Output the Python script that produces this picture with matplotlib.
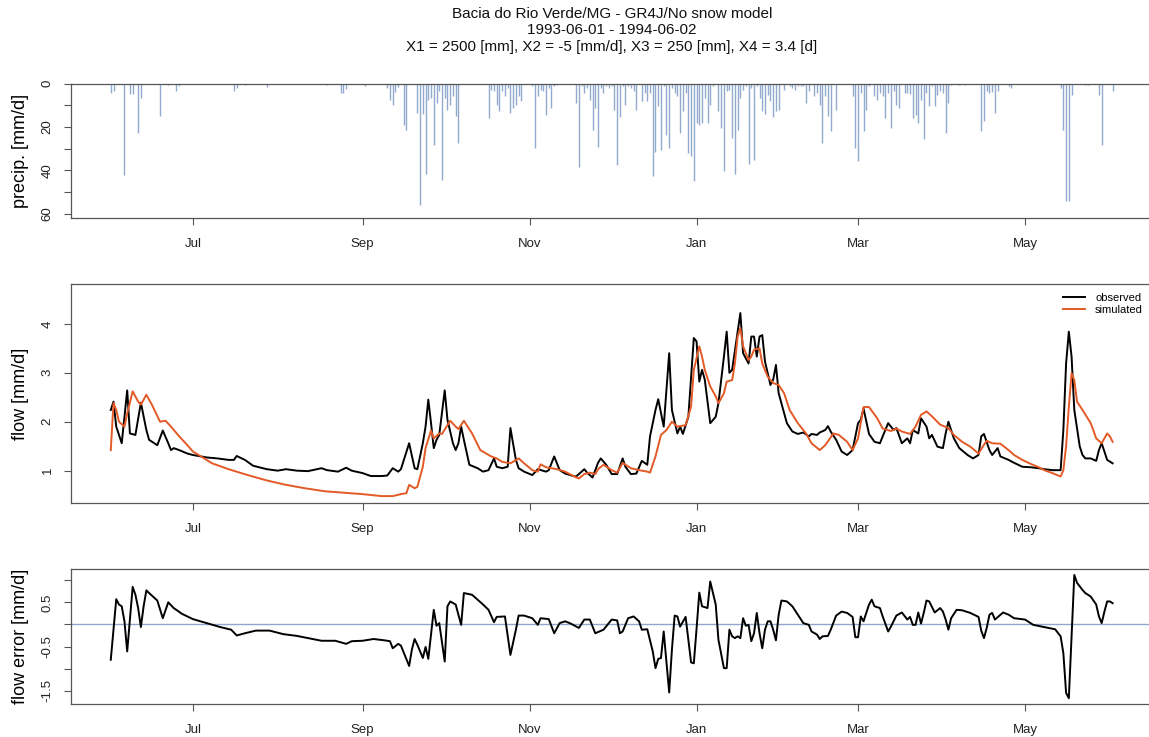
import numpy as np
import matplotlib
matplotlib.use('Agg')
from matplotlib import pyplot as plt
import matplotlib.dates as mdates

plt.rcParams['font.family'] = ['Liberation Sans', 'DejaVu Sans']

start = np.datetime64('1993-06-01')

# daily precipitation (days since 1993-06-01, mm/d), only wet days
rain_day = [0, 1, 5, 7, 8, 10, 11, 18, 21, 24, 25, 45, 46, 49, 57, 79, 84, 85, 86, 93,
            101, 102, 103, 104, 105, 107, 108, 112, 113, 114, 115, 116, 117, 118, 119, 120,
            121, 122, 123, 124, 125, 126, 127,
            138, 139, 140, 141, 142, 143, 144, 145, 146, 147, 148, 149, 150,
            154, 155, 156, 157, 158, 159, 160, 161, 162, 163,
            170, 171, 172, 173, 174, 175, 176, 177, 178, 179, 180, 181, 182, 183, 184, 185,
            186, 187, 188, 189, 190, 191, 192,
            194, 195, 196, 197, 198, 199, 200, 201, 202, 203, 204, 205, 206, 207, 208, 209,
            210, 211, 212, 213, 214, 215, 216, 217, 218, 219, 220, 222, 223, 224, 225, 226,
            227, 228, 229, 230, 231, 232, 233, 234, 235, 236, 237, 238, 239, 240, 241, 242,
            243, 244, 246, 248, 249, 250, 251, 252, 253, 254, 255, 257, 258, 259, 260, 261,
            262, 263, 265,
            271, 272, 273, 274, 275, 276, 277, 279, 280, 281, 282, 283, 284, 285, 286, 287,
            288, 290, 291, 292, 293, 294, 295, 296, 297, 298, 299, 300, 301, 302, 303, 304,
            305, 306, 307, 310, 312, 318, 319, 320, 321, 322, 323, 324, 328, 329,
            347, 348, 349, 350, 351, 356, 357, 361, 362, 366]
rain_mm = [4.5, 3.5, 42.3, 4.8, 4.8, 22.8, 6.6, 15.1, 0.4, 3.2, 1.2, 3.5, 2.0, 0.8, 1.5, 0.8, 4.3, 4.3, 2.3, 1.2,
           2.1, 7.5, 9.8, 3.7, 1.4, 18.9, 21.2, 13.5, 55.8, 14.0, 41.5, 7.4, 6.5, 28.1, 8.9, 3.5,
           44.3, 6.8, 12.0, 9.7, 5.8, 15.1, 27.4,
           15.8, 2.8, 3.5, 9.7, 12.8, 3.5, 5.8, 2.0, 13.5, 11.2, 9.7, 5.8, 8.1,
           1.2, 29.7, 5.8, 2.8, 3.5, 14.3, 2.0, 11.2, 1.2, 0.5,
           8.9, 38.6, 1.2, 4.3, 2.0, 7.4, 21.2, 11.2, 29.0, 2.0, 4.3, 1.2, 2.0, 1.2, 12.0, 37.7,
           15.5, 1.2, 9.7, 1.2, 2.0, 3.5, 12.0,
           8.1, 4.3, 8.1, 4.3, 42.8, 31.5, 10.4, 30.5, 1.2, 23.5, 29.7, 2.0, 4.3, 5.8, 22.8, 12.8,
           4.3, 32.0, 33.5, 45.1, 18.1, 18.9, 18.1, 6.6, 18.1, 9.7, 1.2, 12.8, 20.5, 40.2, 3.5, 2.8,
           25.1, 41.7, 21.2, 6.6, 2.8, 1.2, 37.1, 2.0, 35.1, 1.2, 6.6, 12.8, 14.0, 5.1, 8.1, 15.5,
           12.8, 12.0, 2.8, 1.2, 2.0, 2.8, 1.2, 1.2, 1.2, 8.9, 3.5, 5.8, 4.3, 9.7, 27.4, 5.8,
           15.1, 21.7, 12.0,
           5.8, 29.7, 35.5, 4.3, 22.0, 12.0, 1.2, 5.8, 7.4, 4.3, 5.8, 15.8, 4.3, 20.5, 3.5, 9.7,
           11.2, 4.3, 4.3, 4.7, 15.8, 14.3, 18.1, 7.4, 25.5, 4.3, 10.4, 1.2, 10.4, 5.1, 3.5, 4.3,
           22.8, 8.9, 0.5, 0.5, 0.5, 21.7, 17.4, 3.5, 4.3, 4.0, 13.5, 3.5, 1.2, 2.0,
           2.0, 21.2, 54.3, 54.0, 5.1, 0.8, 0.8, 5.1, 28.1, 3.5]

# observed flow (mm/d)
obs_day = [0, 1, 2, 4, 6, 7, 9, 11, 13, 14, 17, 19, 21, 22, 23, 25, 28, 30, 35, 39, 43, 45, 46, 49,
           52, 57, 61, 64, 68, 72, 77, 79, 83, 86, 88, 92, 95, 99, 101, 103, 105, 106, 109, 111,
           112, 114, 115, 116, 117, 118, 119, 120, 122, 123, 125, 126, 127, 128, 129, 131, 134,
           136, 138, 140, 141, 143, 145, 146, 148, 149, 151, 154, 156, 159, 160, 162, 164, 166,
           169, 170, 171, 173, 174, 176, 177, 178, 179, 181, 183, 185, 187, 188, 190, 192, 194,
           196, 197, 199, 200, 202, 204, 205, 207, 208, 209, 211, 212, 213, 214, 215, 216, 217,
           219, 221, 222, 224, 225, 226, 227, 229, 230, 231, 233, 234, 235, 236, 237, 238, 239,
           241, 242, 243, 244, 246, 247, 249, 251, 253, 255, 256, 258, 259, 261, 262, 263, 265,
           267, 269, 271, 273, 274, 275, 277, 279, 281, 282, 284, 286, 287, 289, 291, 292, 293,
           295, 296, 298, 299, 300, 302, 304, 305, 306, 308, 310, 313, 315, 317, 318, 319, 321,
           322, 324, 325, 328, 330, 333, 336, 339, 341, 344, 347, 348, 349, 350, 351, 352, 354,
           355, 356, 358, 360, 361, 362, 363, 364, 366]
obs_q = [2.24, 2.41, 1.90, 1.56, 2.64, 1.76, 1.73, 2.39, 1.83, 1.63, 1.52, 1.82, 1.56, 1.42, 1.46, 1.42,
         1.35, 1.32, 1.27, 1.25, 1.22, 1.22, 1.30, 1.22,
         1.10, 1.03, 1.00, 1.03, 1.00, 0.99, 1.05, 1.01, 0.98, 1.06, 1.00, 0.95, 0.89, 0.89, 0.90,
         1.05, 0.98, 1.03, 1.56, 1.05,
         1.03, 1.56, 1.90, 2.45, 1.97, 1.46, 1.63, 1.73, 2.64, 2.04, 1.56, 1.42, 1.56, 1.90, 1.63,
         1.12, 1.05,
         0.98, 1.01, 1.25, 1.08, 1.05, 1.08, 1.87, 1.22, 1.05, 0.98, 0.91, 1.03, 0.98, 1.01, 1.29,
         1.01, 0.94,
         0.89, 0.88, 0.93, 1.03, 0.96, 0.86, 1.01, 1.16, 1.25, 1.12, 0.93, 0.93, 1.25, 1.08, 0.93,
         0.94, 1.20,
         1.12, 1.70, 2.24, 2.46, 1.90, 3.40, 2.24, 1.76, 1.90, 1.75, 2.10, 2.92, 3.71, 3.64, 2.82,
         3.06, 2.86,
         1.97, 2.10, 2.38, 3.33, 3.84, 3.00, 3.06, 3.84, 4.22, 3.40, 3.19, 3.74, 3.74, 3.33, 3.74,
         3.77, 3.23,
         2.75, 2.86, 3.16, 2.58, 2.17, 1.97, 1.80, 1.75, 1.78, 1.70, 1.75, 1.73, 1.78, 1.83, 1.91,
         1.80, 1.63,
         1.39, 1.32, 1.42, 1.97, 2.04, 2.27, 1.75, 1.59, 1.56, 1.70, 1.97, 1.83, 1.87, 1.56, 1.66,
         1.56, 1.83,
         1.76, 2.07, 1.90, 1.66, 1.73, 1.49, 1.46, 1.76, 2.00, 1.66, 1.46, 1.32, 1.25, 1.32, 1.70,
         1.75, 1.42,
         1.32, 1.46, 1.29, 1.22, 1.16, 1.08, 1.07, 1.05, 1.03, 1.01, 1.01, 1.83, 3.19, 3.84, 3.33,
         2.24, 1.49,
         1.32, 1.25, 1.25, 1.20, 1.42, 1.56, 1.39, 1.22, 1.15]

# simulated flow, GR4J (mm/d)
sim_day = [0, 1, 2, 3, 5, 6, 8, 10, 11, 13, 15, 18, 20, 22, 25, 28, 30, 33, 37, 43, 50, 57, 64, 71,
           78, 85, 92, 99, 103, 106, 108, 109, 111, 112, 114, 115, 117, 118, 120, 121, 123, 124,
           126, 127, 129, 132, 135, 139, 141, 143, 146, 149, 151, 154, 156, 157, 159, 163, 166,
           169, 171, 173, 175, 177, 178, 180, 183, 185, 187, 190, 193, 196, 197, 199, 201, 203,
           205, 207, 210, 212, 213, 215, 216, 217, 219, 221, 222, 224, 225, 227, 228, 229, 230,
           231, 233, 234, 235, 237, 238, 240, 242, 244, 246, 248, 251, 254, 256, 259, 261, 264,
           266, 269, 271, 273, 275, 277, 280, 282, 285, 287, 289, 292, 294, 296, 298, 300, 303,
           306, 308, 311, 314, 317, 319, 320, 322, 325, 328, 330, 333, 336, 339, 341, 344, 347,
           348, 349, 350, 351, 352, 353, 355, 358, 360, 362, 364, 365, 366]
sim_q = [1.42, 2.38, 2.24, 2.00, 1.90, 2.17, 2.62, 2.41, 2.35, 2.55, 2.35, 2.00, 2.02, 1.90, 1.70,
         1.52, 1.39, 1.29, 1.15, 1.03, 0.91, 0.80, 0.71, 0.64,
         0.58, 0.55, 0.52, 0.48, 0.48, 0.52, 0.54, 0.71, 0.64, 0.67, 1.08, 1.46, 1.82, 1.66, 1.76,
         1.75, 1.93, 2.02,
         1.90, 1.85, 2.02, 1.76, 1.42, 1.29, 1.25, 1.18, 1.15, 1.25, 1.15, 1.01, 0.98, 1.13, 1.07,
         1.03, 0.98,
         0.89, 0.84, 0.93, 0.96, 0.93, 1.03, 1.12, 1.01, 0.96, 1.16, 1.05, 1.01, 0.98, 0.96, 1.29,
         1.73, 1.83,
         2.00, 1.90, 1.93, 2.31, 3.06, 3.54, 3.33, 3.06, 2.72, 2.52, 2.38, 2.58, 2.82, 2.85, 3.19,
         3.74, 3.91,
         3.54, 3.26, 3.33, 3.47, 3.50, 3.19, 2.92, 2.79, 2.75, 2.58, 2.24, 1.97, 1.76, 1.56, 1.42,
         1.52, 1.76,
         1.73, 1.59, 1.42, 1.66, 2.30, 2.30, 2.07, 1.86, 1.81, 1.86, 1.80, 1.75, 1.90, 2.14, 2.21,
         2.11, 1.94,
         1.87, 1.73, 1.59, 1.49, 1.35, 1.53, 1.61, 1.56, 1.55, 1.42, 1.32, 1.22, 1.14, 1.07, 1.01,
         0.95, 0.88,
         1.01, 1.50, 2.30, 2.99, 2.85, 2.41, 2.24, 1.97, 1.66, 1.56, 1.76, 1.70, 1.59]

# flow error (mm/d)
err_day = [0, 2, 3, 4, 5, 6, 8, 9, 10, 11, 12, 13, 14, 17, 19, 21, 23, 26, 30, 35, 40, 44, 46, 49,
           53, 58, 63, 68, 72, 77, 82, 86, 88, 92, 96, 100, 102, 103, 105, 106, 109, 110, 111, 112,
           114, 115, 116, 118, 119, 120, 122, 123, 124, 126, 128, 129, 132, 134, 136, 138, 140,
           141, 144, 146, 148, 149, 151, 154, 156, 157, 160, 162, 164, 166, 168, 171, 173, 175,
           177, 180, 183, 185, 186, 187, 189, 191, 193, 194, 196, 198, 199, 200, 201, 202, 204,
           205, 206, 207, 208, 210, 211, 212, 213, 214, 215, 216, 218, 219, 221, 222, 224, 225,
           226, 227, 228, 229, 230, 231, 232, 233, 234, 235, 236, 237, 238, 239, 240, 241, 242,
           243, 244, 245, 247, 249, 251, 253, 255, 256, 258, 259, 260, 262, 263, 265, 267, 269,
           271, 272, 273, 274, 275, 277, 278, 279, 281, 282, 284, 285, 287, 289, 291, 292, 293,
           294, 295, 296, 297, 298, 299, 301, 303, 304, 305, 306, 307, 309, 311, 314, 317, 318,
           319, 320, 321, 322, 323, 326, 328, 330, 334, 337, 341, 345, 347, 348, 349, 350, 351,
           352, 353, 355, 356, 358, 360, 361, 362, 363, 364, 365, 366]
err_q = [-0.80, 0.57, 0.45, 0.41, 0.07, -0.61, 0.85, 0.67, 0.37, -0.06, 0.41, 0.77, 0.71, 0.54, 0.14,
         0.50, 0.37, 0.24, 0.12, 0.03, -0.06, -0.12, -0.25, -0.20,
         -0.14, -0.14, -0.22, -0.26, -0.31, -0.37, -0.37, -0.44, -0.38, -0.37, -0.33, -0.36, -0.38,
         -0.54, -0.44, -0.48, -0.94, -0.57, -0.33, -0.46,
         -0.76, -0.51, -0.78, 0.33, -0.03, 0.03, -0.84, 0.41, 0.52, 0.45, -0.01, 0.71, 0.67, 0.56,
         0.45, 0.33, 0.05,
         0.17, 0.18, -0.69, -0.12, 0.20, 0.20, 0.14, -0.01, 0.14, 0.12, -0.20, 0.03, 0.07, 0.02,
         -0.08, 0.11, 0.11,
         -0.20, -0.12, 0.11, 0.09, -0.20, -0.16, 0.14, 0.18, 0.07, -0.12, -0.11, -0.61, -0.99, -0.78,
         -0.76, -0.16, -1.54,
         -0.57, 0.20, 0.18, -0.05, 0.17, -0.35, -0.86, -0.88, -0.10, 0.72, 0.41, 0.37, 0.97, 0.45,
         -0.35, -0.99, -0.99,
         -0.12, -0.27, -0.31, -0.27, -0.31, 0.14, -0.03, -0.01, -0.38, -0.20, 0.26, -0.20, -0.54,
         -0.12, 0.07, 0.07, -0.12,
         -0.36, 0.22, 0.54, 0.52, 0.41, 0.22, 0.03, -0.01, -0.16, -0.23, -0.33, -0.27, -0.26, -0.12,
         0.20, 0.29, 0.26,
         0.17, -0.29, -0.29, 0.18, 0.07, 0.45, 0.56, 0.41, 0.37, 0.18, -0.16, -0.05, 0.20, 0.27,
         0.11, 0.17, -0.01,
         -0.01, 0.27, 0.02, 0.26, 0.54, 0.52, 0.27, 0.37, 0.29, 0.11, -0.12, 0.14, 0.33, 0.32, 0.26,
         0.17, -0.14,
         -0.31, -0.08, 0.22, 0.26, 0.11, 0.27, 0.22, 0.14, 0.11, -0.01, -0.06, -0.11, -0.27, -0.65,
         -1.55, -1.67, -0.30,
         1.12, 0.94, 0.78, 0.71, 0.63, 0.45, 0.18, 0.03, 0.29, 0.52, 0.52, 0.48]

title_lines = ['Bacia do Rio Verde/MG - GR4J/No snow model',
               '1993-06-01 - 1994-06-02',
               'X1 = 2500 [mm], X2 = -5 [mm/d], X3 = 250 [mm], X4 = 3.4 [d]']


def to_dates(days):
    return start + np.array(days, dtype='timedelta64[D]')


W, H = 1149, 737
fig = plt.figure(figsize=(W / 100, H / 100), dpi=100)

left = 70.7 / W
width = 1082.0 / W


def panel(top_px, bottom_px):
    return fig.add_axes([left, 1 - bottom_px / H, width, (bottom_px - top_px) / H])


ax_p = panel(83.7, 218.0)
ax_q = panel(283.7, 503.3)
ax_e = panel(569.3, 703.7)

spine_col = '#555555'
x0 = mdates.date2num(start)
for ax in (ax_p, ax_q, ax_e):
    ax.set_xlim(x0 - 14.64, x0 + 380.64)
    ax.xaxis.set_major_locator(mdates.MonthLocator(bymonth=[1, 3, 5, 7, 9, 11]))
    ax.xaxis.set_major_formatter(mdates.DateFormatter('%b'))
    for s in ax.spines.values():
        s.set_color(spine_col)
        s.set_linewidth(0.9)
    ax.tick_params(axis='both', direction='out', length=5.3, width=0.8, color=spine_col,
                   labelsize=9.5, labelcolor='#222222')
    ax.tick_params(axis='x', pad=9)
    ax.tick_params(axis='y', pad=7, labelrotation=90)

# precipitation, inverted axis
ax_p.vlines(to_dates(rain_day), 0, rain_mm, color='#93AACF', lw=1.0)
ax_p.set_ylim(62, 0)
ax_p.set_yticks([0, 10, 20, 30, 40, 50, 60])
ax_p.set_yticklabels(['0', '', '20', '', '40', '', '60'], va='center')

# observed vs simulated flow
ax_q.plot(to_dates(obs_day), obs_q, color='black', lw=1.4, label='observed')
ax_q.plot(to_dates(sim_day), sim_q, color='#E35A26', lw=1.4, label='simulated')
ax_q.set_ylim(0.333, 4.82)
ax_q.set_yticks([1, 2, 3, 4])
ax_q.set_yticklabels(['1', '2', '3', '4'], va='center')
# legend kept just inside the right edge of the picture
ax_q.legend(loc='upper left', bbox_to_anchor=(0.917, 0.958), frameon=False, fontsize=8,
            handlelength=2.0, handletextpad=0.9, labelspacing=0.2, borderpad=0, borderaxespad=0)

# error
ax_e.axhline(0, color='#8FA7CB', lw=1.0)
ax_e.plot(to_dates(err_day), err_q, color='black', lw=1.4)
ax_e.set_ylim(-1.794, 1.247)
ax_e.set_yticks([-1.5, -1.0, -0.5, 0.0, 0.5, 1.0])
ax_e.set_yticklabels(['-1.5', '', '-0.5', '', '0.5', ''], va='center')

# y labels
lab_x = 20.5 / W
fig.text(lab_x, 1 - 150.9 / H, 'precip. [mm/d]', rotation=90, ha='center', va='center', fontsize=13)
fig.text(lab_x, 1 - 393.5 / H, 'flow [mm/d]', rotation=90, ha='center', va='center', fontsize=13)
fig.text(lab_x, 1 - 636.5 / H, 'flow error [mm/d]', rotation=90, ha='center', va='center', fontsize=13)

# three line title
tx = (70.7 + 1152.7) / 2 / W
for i, line in enumerate(title_lines):
    fig.text(tx, 1 - (14 + 16.5 * i) / H, line, ha='center', va='center', fontsize=11,
             color='#111111')

fig.savefig('out.png', dpi=100)
